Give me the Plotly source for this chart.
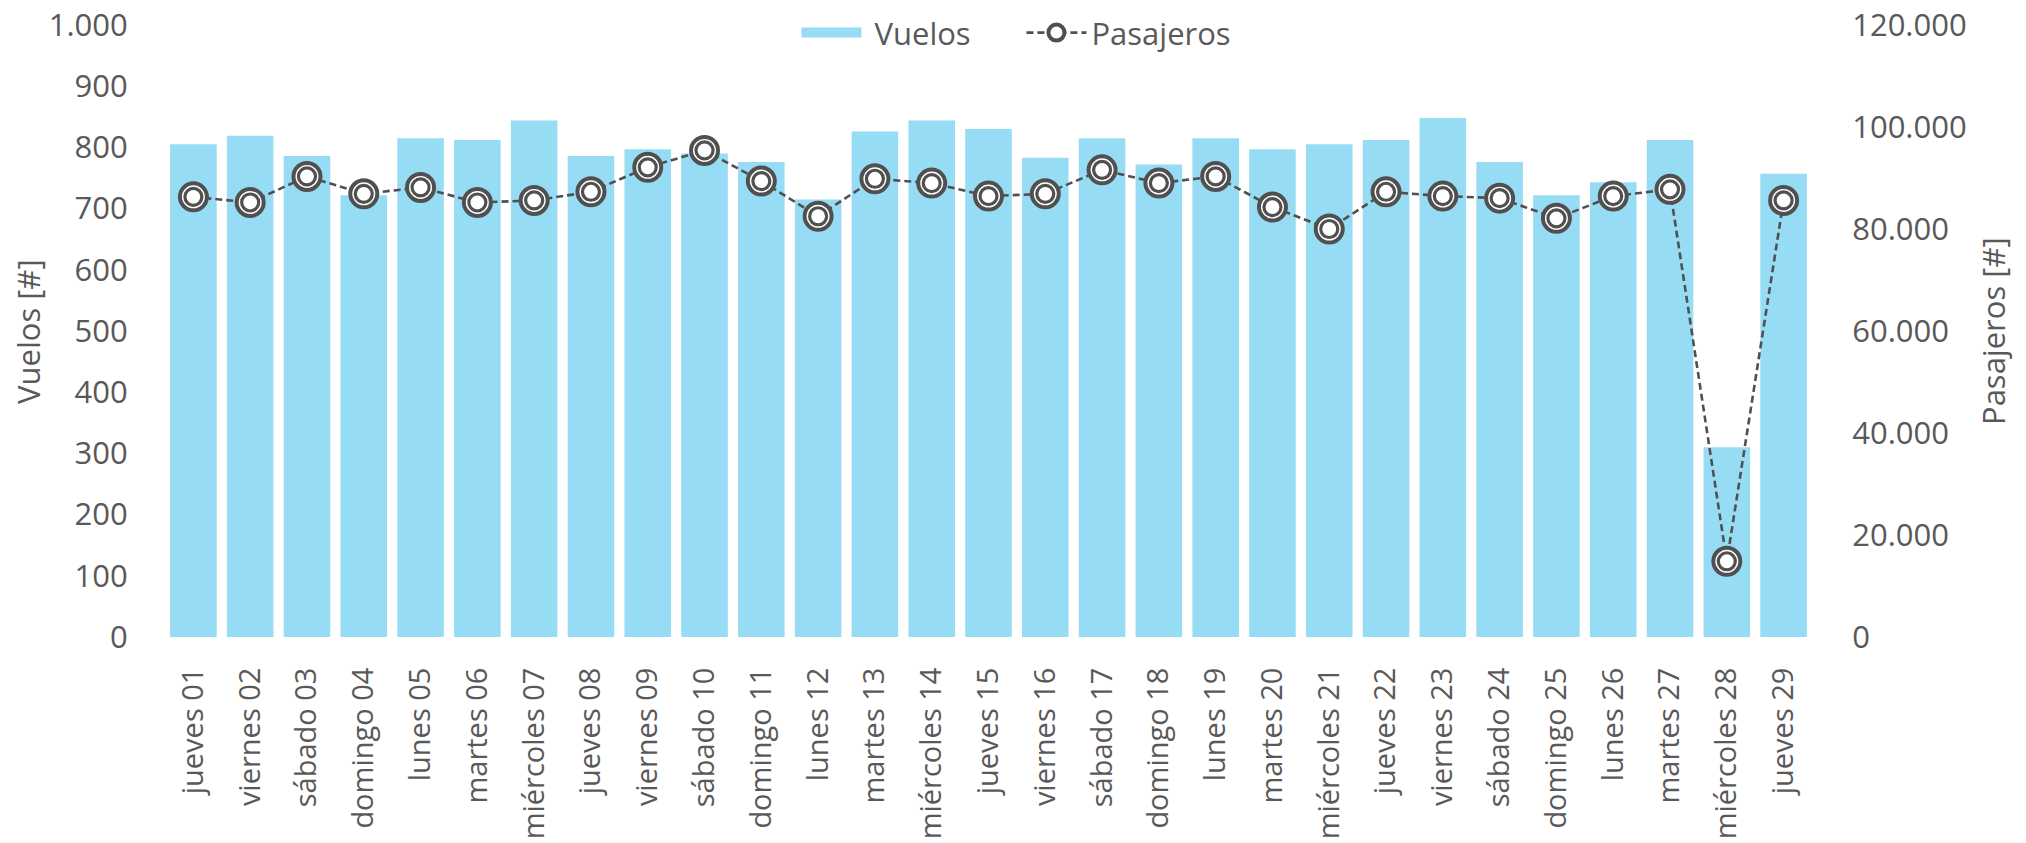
import plotly.graph_objects as go

# Daily data for the month
dias = [
    "jueves 01", "viernes 02", "sábado 03", "domingo 04", "lunes 05", "martes 06",
    "miércoles 07", "jueves 08", "viernes 09", "sábado 10", "domingo 11", "lunes 12",
    "martes 13", "miércoles 14", "jueves 15", "viernes 16", "sábado 17", "domingo 18",
    "lunes 19", "martes 20", "miércoles 21", "jueves 22", "viernes 23", "sábado 24",
    "domingo 25", "lunes 26", "martes 27", "miércoles 28", "jueves 29",
]
vuelos = [
    805, 819, 786, 722, 815, 812, 844, 786, 797, 790,
    776, 715, 826, 844, 830, 783, 815, 772, 815, 797,
    805, 812, 848, 776, 722, 743, 812, 310, 757,
]
pasajeros = [
    86300, 85200, 90300, 86900, 88150, 85200, 85600, 87300, 92100, 95400,
    89400, 82500, 89850, 89000, 86450, 86900, 91600, 89000, 90300, 84300,
    80000, 87300, 86450, 86050, 82100, 86450, 87770, 14850, 85600,
]

TEXT = "#595959"
DARK = "#505050"
BAR = "#97DCF5"
FONT = "Open Sans"

fig = go.Figure()

fig.add_trace(go.Bar(
    x=dias, y=vuelos, name="Vuelos", showlegend=False,
    marker=dict(color=BAR, line=dict(width=0)),
    yaxis="y",
))
# legend entry for the bars, drawn as a wide band
fig.add_trace(go.Scatter(
    x=[None], y=[None], name=" Vuelos", mode="lines",
    line=dict(color=BAR, width=13), yaxis="y",
))

# Passenger line with double-ring markers (outer ring + inner ring)
fig.add_trace(go.Scatter(
    x=dias, y=pasajeros, name="Pasajeros", mode="lines+markers",
    line=dict(color=DARK, width=2.6, dash="7px,4px"),
    marker=dict(symbol="circle", size=27, color="white",
                line=dict(color=DARK, width=4)),
    yaxis="y2",
))
fig.add_trace(go.Scatter(
    x=dias, y=pasajeros, mode="markers", showlegend=False,
    marker=dict(symbol="circle", size=17, color="white",
                line=dict(color=DARK, width=3.2)),
    yaxis="y2", hoverinfo="skip",
))

fig.update_layout(
    width=2026, height=843,
    margin=dict(l=165, r=214, t=25, b=206, autoexpand=False),
    paper_bgcolor="white", plot_bgcolor="white",
    separators=",.",
    font=dict(family=FONT, size=31, color=TEXT),
    bargap=0.18,
    showlegend=True,
    legend=dict(
        orientation="h", xref="paper", yref="paper",
        x=0.52, xanchor="center", y=0.987, yanchor="middle",
        font=dict(family=FONT, size=31, color=TEXT),
        bgcolor="rgba(0,0,0,0)", entrywidth=150, itemwidth=60,
    ),
    xaxis=dict(
        type="category", range=[-0.5, len(dias) - 0.5], autorange=False,
        tickangle=-90, showgrid=False, zeroline=False,
        showline=False, ticks="outside", ticklen=18, tickcolor="rgba(0,0,0,0)",
        tickfont=dict(family=FONT, size=29, color=TEXT),
        automargin=False,
    ),
    yaxis=dict(
        range=[0, 1000], dtick=100, tickformat=",d", showgrid=False,
        zeroline=False, showline=False, ticks="outside", ticklen=30,
        tickcolor="rgba(0,0,0,0)", automargin=False,
        tickfont=dict(family=FONT, size=31, color=TEXT),
    ),
    yaxis2=dict(
        range=[0, 120000], dtick=20000, tickformat=",d", overlaying="y",
        side="right", showgrid=False, zeroline=False, showline=False,
        ticks="outside", ticklen=33, tickcolor="rgba(0,0,0,0)", automargin=False,
        tickfont=dict(family=FONT, size=31, color=TEXT),
    ),
    annotations=[
        dict(text="Vuelos [#]", xref="paper", yref="paper",
             x=-0.0832, y=0.5, textangle=-90, showarrow=False,
             xanchor="center", yanchor="middle",
             font=dict(family=FONT, size=31, color=TEXT)),
        dict(text="Pasajeros [#]", xref="paper", yref="paper",
             x=1.1099, y=0.5, textangle=-90, showarrow=False,
             xanchor="center", yanchor="middle",
             font=dict(family=FONT, size=31, color=TEXT)),
    ],
)

fig.write_html("out.html")
